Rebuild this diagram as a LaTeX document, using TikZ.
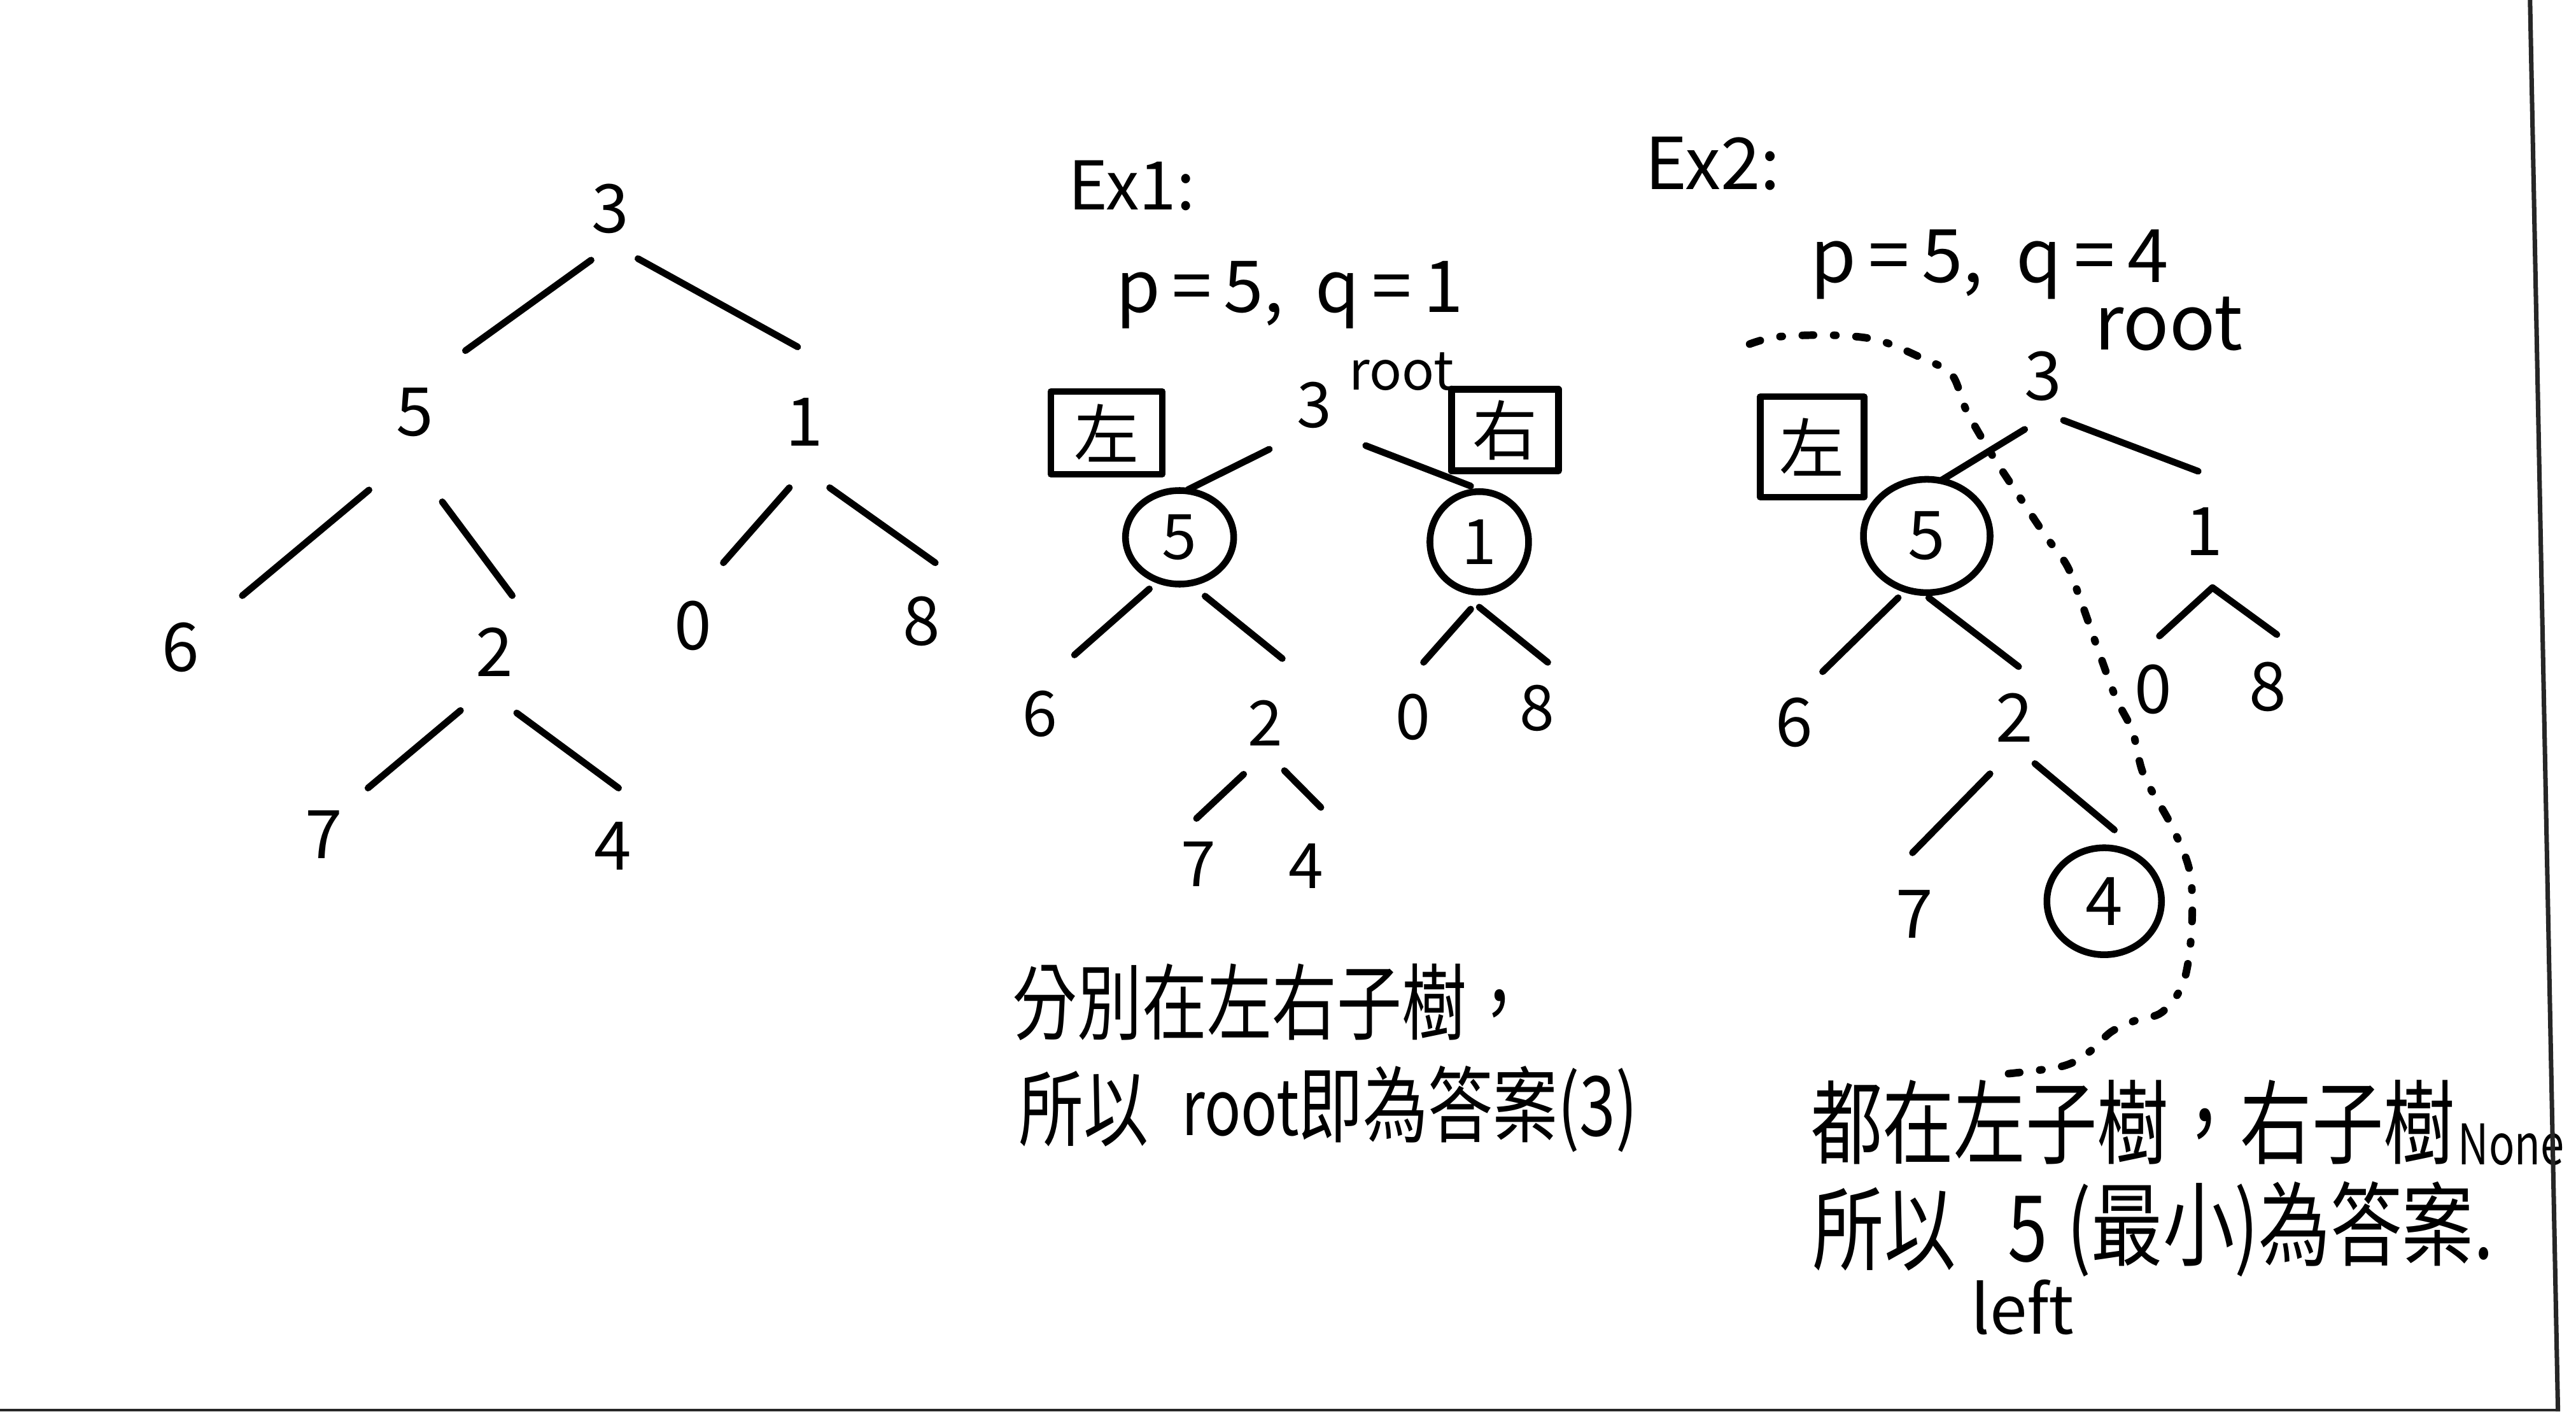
\documentclass[tikz,border=0pt]{standalone}
\usepackage{fontspec}
\usepackage{graphicx}
\setmainfont{Noto Sans CJK TC}
\usetikzlibrary{shapes.geometric}
\tikzset{
  ink/.style={line width=3pt, line cap=round, line join=round},
  dig/.style={font=\fontsize{30}{30}\selectfont, inner sep=0pt},
  digs/.style={font=\fontsize{28}{28}\selectfont, inner sep=0pt},
  circ/.style={ink, draw, ellipse, inner sep=0pt},
  boxed/.style={ink, draw, inner sep=0pt, font=\fontsize{29}{29}\selectfont},
  dotline/.style={line width=3.4pt, line cap=round, dash pattern=on 5pt off 9pt on 1pt off 9pt},
  txt/.style={inner sep=0pt, anchor=west},
  lbl/.style={inner sep=0pt},
}
% edge from node #1 shifted by (#2) to node #3 shifted by (#4)
\newcommand{\tedge}[4]{\draw[ink] ([shift={(#2)}]#1.center) -- ([shift={(#4)}]#3.center);}
\newcommand{\tall}[1]{\scalebox{1}[1.28]{#1}}
\begin{document}
\begin{tikzpicture}[x=0.2581mm, y=-0.2581mm]
\useasboundingbox (0,0) rectangle (1568,859);
\fill[white] (0,0) rectangle (1568,859);

% ---------------- Tree 1 ----------------
\node[dig] (t3) at (371.5,127) {3};
\node[dig] (t5) at (252.5,251) {5};
\node[dig] (t1) at (489.5,257) {1};
\node[dig] (t6) at (110,394) {6};
\node[dig] (t2) at (301,397) {2};
\node[dig] (t0) at (422,381) {0};
\node[dig] (t8) at (561,378) {8};
\node[dig] (t7) at (197,508) {7};
\node[dig] (t4) at (373,515) {4};
\tedge{t3}{-11.7,31.3}{t5}{30.8,-37.6}
\tedge{t3}{16.8,30.4}{t1}{-4,-45.9}
\tedge{t5}{-27.9,47.2}{t6}{37.5,-31.5}
\tedge{t5}{16.7,54.4}{t2}{10.8,-34.5}
\tedge{t1}{-9,39.8}{t0}{18.3,-38.5}
\tedge{t1}{15.5,39.8}{t8}{8.3,-35.5}
\tedge{t2}{-20.7,35.4}{t7}{27,-28.4}
\tedge{t2}{13.5,36.9}{t4}{3.5,-35.4}

% ---------------- Ex1 ----------------
\node[lbl, font=\fontsize{30}{30}\selectfont] (ex1) at (689,113) {Ex1:};
\node[lbl, anchor=base, font=\fontsize{32}{32}\selectfont] (pq1) at (785,190) {p{\,}={\,}5,\ \ q{\,}={\,}1};
\node[lbl, font=\fontsize{24}{24}\selectfont] (root1) at (853,226) {root};
\node[boxed, minimum width=17.5mm, minimum height=13mm] (bl1) at (673.5,263.4) {左};
\node[boxed, minimum width=16.8mm, minimum height=12.8mm] (br1) at (916,261.8) {右};
\node[digs] (a3) at (800,246.6) {3};
\node[circ, digs, minimum width=17mm, minimum height=14.7mm] (a5) at (718,327) {5};
\node[circ, digs, minimum width=15.5mm, minimum height=15.8mm] (a1) at (900.4,329.8) {1};
\node[digs] (a6) at (633,434.4) {6};
\node[digs] (a2) at (770,440) {2};
\node[digs] (a0) at (860,436.6) {0};
\node[digs] (a8) at (935.6,431) {8};
\node[digs] (a7) at (729.6,526) {7};
\node[digs] (a4) at (794.8,527) {4};
\tedge{a3}{-27.4,26.8}{a5}{5.1,-29}
\tedge{a3}{31.3,24.6}{a1}{-5.2,-34}
\tedge{a5}{-18.4,31.4}{a6}{21,-35.8}
\tedge{a5}{15.5,35.8}{a2}{10.5,-39.2}
\tedge{a1}{-5.2,40.9}{a0}{6.5,-33.5}
\tedge{a1}{0,39.7}{a8}{6.5,-27.9}
\tedge{a2}{-13,31.2}{a7}{-1.3,-27.9}
\tedge{a2}{11.8,29}{a4}{9.2,-35.6}

\node[txt, font=\fontsize{29}{29}\selectfont] (e1l1) at (616,610) {\tall{分別在左右子樹，}};
\node[txt, font=\fontsize{29}{29}\selectfont] (e1l2a) at (620,675) {\tall{所以}};
\node[txt, font=\fontsize{27}{27}\selectfont] (e1l2b) at (719,675) {\tall{root}};
\node[txt, font=\fontsize{29}{29}\selectfont] (e1l2c) at (790,675) {\tall{即為答案(3)}};

% ---------------- Ex2 ----------------
\node[lbl, font=\fontsize{32}{32}\selectfont] (ex2) at (1042.6,99.5) {Ex2:};
\node[lbl, anchor=base, font=\fontsize{33}{33}\selectfont] (pq2) at (1211,172) {p{\,}={\,}5,\ \ q{\,}={\,}4};
\node[lbl, font=\fontsize{34}{34}\selectfont] (root2) at (1320,197) {root};
\node[boxed, minimum width=16.3mm, minimum height=15.8mm] (bl2) at (1103,272) {左};
\node[dig] (b3) at (1243.6,229) {3};
\node[circ, dig, minimum width=19.9mm, minimum height=17.8mm] (b5) at (1172.8,326.2) {5};
\node[dig] (b1) at (1341.7,323.4) {1};
\node[dig] (b6) at (1092,439.9) {6};
\node[dig] (b2) at (1226.2,436.8) {2};
\node[dig] (b0) at (1310.6,419.7) {0};
\node[dig] (b8) at (1380.2,418.1) {8};
\node[dig] (b7) at (1165.3,556.3) {7};
\node[circ, dig, minimum width=18mm, minimum height=16.8mm] (b4) at (1280.8,548.5) {4};
\tedge{b3}{-11.2,32.3}{b5}{8.7,-33.8}
\tedge{b3}{12.4,26.8}{b1}{-3.7,-36.6}
\tedge{b1}{5,34.2}{b0}{3.8,-32.6}
\tedge{b1}{5,34.2}{b8}{5.7,-31.9}
\tedge{b5}{-17.4,37.6}{b6}{17.4,-31.1}
\tedge{b5}{1.2,37.6}{b2}{2.5,-31.1}
\tedge{b2}{-14.9,34.1}{b7}{-1.2,-37.3}
\tedge{b2}{12.4,27.9}{b4}{6.2,-43.4}

\draw[dotline] plot[smooth, tension=0.55] coordinates {
 (1065,209.4) (1082,205) (1115,204) (1143,207) (1170,218) (1188,228) (1197,250)
 (1212,276) (1229,302) (1245,326) (1258,344) (1266,364) (1278,398) (1288,425)
 (1298,445) (1305,472) (1322,503) (1333,531) (1334,566) (1329,598) (1316,616)
 (1300,621) (1285,628) (1272,640) (1255,649) (1217,654)};

\node[txt, font=\fontsize{32}{32}\selectfont] (e2l1) at (1102,683) {\tall{都在左子樹，右子樹}};
\node[inner sep=0pt, anchor=base west, font=\fontsize{25}{25}\selectfont] (none) at (1496,709) {\scalebox{0.76}[1]{None}};
\node[txt, font=\fontsize{32}{32}\selectfont] (e2l2a) at (1103,748) {\tall{所以}};
\node[txt, font=\fontsize{32}{32}\selectfont] (e2l2b) at (1222,748) {\tall{5}};
\node[txt, font=\fontsize{32}{32}\selectfont] (e2l2c) at (1258,748) {\tall{(最小)為答案.}};
\node[lbl, anchor=base, font=\fontsize{30}{30}\selectfont] (left) at (1231,812) {left};

% paper edges
\draw[line width=2pt, black!85] (1540,0) -- (1557,859);
\draw[line width=1.2pt, black!85] (0,858.3) -- (1557,858.3);
\end{tikzpicture}
\end{document}
